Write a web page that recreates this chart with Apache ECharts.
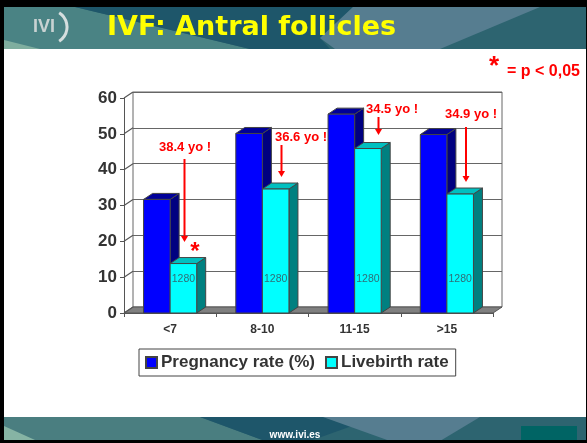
<!DOCTYPE html>
<html>
<head>
<meta charset="utf-8">
<title>IVF: Antral follicles</title>
<script src="https://cdn.jsdelivr.net/npm/echarts@6/dist/echarts.min.js"></script>
<style>
  html, body { margin: 0; padding: 0; background: #fff; }
  #main { width: 587px; height: 443px; }
</style>
</head>
<body>
<div id="main"></div>
<script>
var categories = ["<7", "8-10", "11-15", ">15"];
var pregnancyRate = [31.7, 50.1, 55.5, 49.8];
var livebirthRate = [13.8, 34.6, 45.9, 33.2];
var cycleCounts = ["1280", "1280", "1280", "1280"];
var yTicks = [0, 10, 20, 30, 40, 50, 60];
var ageNotes = ["38.4 yo !", "36.6 yo !", "34.5 yo !", "34.9 yo !"];

var chart = echarts.init(document.getElementById("main"));

// 3D look: depth of the bars and of the back wall
var DX = 9, DY = 6;
var FONT = '"Liberation Sans", Arial, sans-serif';

function barShape(side, front, faceSide, faceTop, labels) {
  return function (params, api) {
    var base = api.coord([api.value(0), 0]);
    var top = api.coord([api.value(0), api.value(1)]);
    var w = api.size([1, 0])[0] * 0.288;
    var x0 = base[0] + (side < 0 ? -w : 0);
    var x1 = x0 + w;
    var children = [
      { type: "polygon", shape: { points: [[x1, top[1]], [x1 + DX, top[1] - DY], [x1 + DX, base[1] - DY], [x1, base[1]]] },
        style: { fill: faceSide, stroke: "#444", lineWidth: 1 } },
      { type: "polygon", shape: { points: [[x0, top[1]], [x0 + DX, top[1] - DY], [x1 + DX, top[1] - DY], [x1, top[1]]] },
        style: { fill: faceTop, stroke: "#444", lineWidth: 1 } },
      { type: "rect", shape: { x: x0, y: top[1], width: w, height: base[1] - top[1] },
        style: { fill: front, stroke: "#444", lineWidth: 1 } }
    ];
    if (labels) {
      children.push({ type: "text", style: { text: labels[params.dataIndex], x: x0 + w / 2, y: base[1] - 34,
        fill: "#2f6f78", font: "10.5px " + FONT, textAlign: "center", textVerticalAlign: "middle" } });
    }
    return { type: "group", children: children };
  };
}

// floor and the little diagonals between the y axis and the back wall
function renderWall(params, api) {
  var p = api.coord([0, api.value(0)]);
  var x = p[0] - api.size([1, 0])[0] / 2;
  var children = [{ type: "line", shape: { x1: x, y1: p[1], x2: x + DX, y2: p[1] - DY }, style: { stroke: "#555", lineWidth: 1.2 } }];
  if (api.value(0) === 0) {
    var right = x + api.size([1, 0])[0] * categories.length;
    children.unshift({ type: "polygon", shape: { points: [[x, p[1]], [x + DX, p[1] - DY], [right + DX, p[1] - DY], [right, p[1]]] },
      style: { fill: "#808080", stroke: "#555", lineWidth: 1 } });
  }
  return { type: "group", children: children };
}

function redText(text, x, y, size, align) {
  return { type: "text", z: 100, silent: true, style: { text: text, x: x, y: y, fill: "#ff0000",
    font: "bold " + size + "px " + FONT, textAlign: align || "center", textVerticalAlign: "middle" } };
}
function arrow(x, y1, y2) {
  return { type: "group", z: 100, silent: true, children: [
    { type: "line", z: 100, shape: { x1: x, y1: y1, x2: x, y2: y2 - 4 }, style: { stroke: "#ff0000", lineWidth: 2 } },
    { type: "polygon", z: 100, shape: { points: [[x - 3.5, y2 - 6], [x + 3.5, y2 - 6], [x, y2]] }, style: { fill: "#ff0000" } }
  ] };
}
function patch(points, fill) {
  return { type: "polygon", z: 1, silent: true, shape: { points: points }, style: { fill: fill } };
}

var graphicItems = [
  // header band
  { type: "rect", z: 1, silent: true, shape: { x: 4, y: 7, width: 582, height: 42 }, style: { fill: "#2d6470" } },
  patch([[4, 7], [75, 7], [250, 49], [4, 49]], "#4a8384"),
  patch([[4, 40], [40, 49], [4, 49]], "#7fae9f"),
  patch([[75, 7], [353, 7], [320, 38], [330, 49], [250, 49]], "#1e566a"),
  patch([[353, 7], [540, 7], [440, 49], [335, 49], [320, 38]], "#567d90"),
  // footer band
  { type: "rect", z: 1, silent: true, shape: { x: 4, y: 417, width: 582, height: 24 }, style: { fill: "#2d6470" } },
  patch([[4, 417], [200, 417], [265, 441], [4, 441]], "#4a7e80"),
  patch([[4, 426], [35, 440], [4, 440]], "#86b4a4"),
  patch([[200, 417], [323, 417], [352, 426], [310, 441], [265, 441]], "#1e566a"),
  patch([[323, 417], [480, 417], [440, 441], [390, 441]], "#567d90"),
  { type: "rect", z: 2, silent: true, shape: { x: 521, y: 426, width: 56, height: 14 }, style: { fill: "#006464" } },
  // slide frame
  { type: "rect", z: 3, silent: true, shape: { x: 0, y: 0, width: 587, height: 7 }, style: { fill: "#000" } },
  { type: "rect", z: 3, silent: true, shape: { x: 0, y: 0, width: 4, height: 443 }, style: { fill: "#000" } },
  { type: "rect", z: 3, silent: true, shape: { x: 586, y: 0, width: 1, height: 443 }, style: { fill: "#000" } },
  { type: "rect", z: 3, silent: true, shape: { x: 0, y: 440, width: 587, height: 3 }, style: { fill: "#000" } },
  // header
  { type: "text", z: 4, silent: true, style: { text: "IVI", x: 33, y: 27, fill: "#c9d2d2", font: "bold 18px " + FONT, textVerticalAlign: "middle" } },
  { type: "arc", z: 4, silent: true, shape: { cx: 50, cy: 27, r: 17, startAngle: -1.0, endAngle: 1.0 }, style: { stroke: "#d5dede", lineWidth: 3, fill: "none" } },
  { type: "text", z: 4, silent: true, style: { text: "IVF: Antral follicles", x: 107, y: 28, fill: "#ffff00",
    font: 'bold 27px "DejaVu Sans", sans-serif', textVerticalAlign: "middle" } },
  { type: "text", z: 4, silent: true, style: { text: "www.ivi.es", x: 295, y: 435, fill: "#ffffff", font: "bold 10px " + FONT, textAlign: "center", textVerticalAlign: "middle" } },
  // significance note
  redText("*", 494, 67, 26),
  redText("= p < 0,05", 507, 72, 16, "left"),
  // age notes and arrows
  redText(ageNotes[0], 185, 147, 13), arrow(184.5, 159, 242),
  redText(ageNotes[1], 301, 137, 13), arrow(281.5, 145, 177),
  redText(ageNotes[2], 392, 109, 13), arrow(378.5, 117, 135),
  redText(ageNotes[3], 471, 114, 13), arrow(466, 127, 182),
  redText("*", 195, 252, 24)
];

var option = {
  animation: false,
  backgroundColor: "#ffffff",
  textStyle: { fontFamily: FONT },
  grid: [
    { left: 124, top: 98, width: 369, height: 215 },
    { left: 133, top: 92, width: 369, height: 215, show: true, backgroundColor: "#fff", borderColor: "#666", borderWidth: 1 }
  ],
  xAxis: [
    { type: "category", gridIndex: 0, data: categories,
      axisLine: { lineStyle: { color: "#555" } },
      axisTick: { show: true, length: 4, lineStyle: { color: "#555" } },
      axisLabel: { color: "#333", fontWeight: "bold", fontSize: 12, margin: 11, fontFamily: FONT },
      splitLine: { show: false } },
    { type: "category", gridIndex: 1, data: categories, show: false }
  ],
  yAxis: [
    { type: "value", gridIndex: 0, min: 0, max: 60, interval: 10,
      axisLine: { show: true, lineStyle: { color: "#555" } },
      axisTick: { show: true, length: 4, lineStyle: { color: "#555" } },
      axisLabel: { color: "#333", fontWeight: "bold", fontSize: 17, margin: 7, fontFamily: FONT },
      splitLine: { show: false } },
    { type: "value", gridIndex: 1, min: 0, max: 60, interval: 10,
      axisLine: { show: false }, axisTick: { show: false }, axisLabel: { show: false },
      splitLine: { show: true, lineStyle: { color: "#666", width: 1.2 } } }
  ],
  legend: {
    data: ["Pregnancy rate (%)", "Livebirth rate"],
    left: 139, top: 349,
    orient: "horizontal",
    icon: "rect", itemWidth: 11, itemHeight: 11, itemGap: 10,
    padding: [5, 7, 5, 6],
    selectedMode: false,
    backgroundColor: "#fff",
    borderColor: "#444", borderWidth: 1,
    textStyle: { color: "#333", fontWeight: "bold", fontSize: 17, fontFamily: FONT, padding: [0, 0, 0, -1] }
  },
  series: [
    { type: "custom", name: "walls", xAxisIndex: 0, yAxisIndex: 0, clip: false, silent: true, z: 2,
      encode: { y: 0 }, data: yTicks.map(function (t) { return [t]; }), renderItem: renderWall },
    { type: "custom", name: "Pregnancy rate (%)", xAxisIndex: 0, yAxisIndex: 0, clip: false, z: 3,
      itemStyle: { color: "#0000ff", borderColor: "#444", borderWidth: 1 },
      encode: { x: 0, y: 1 },
      data: pregnancyRate.map(function (v, i) { return [i, v]; }),
      renderItem: barShape(-1, "#0000ff", "#000080", "#000099") },
    { type: "custom", name: "Livebirth rate", xAxisIndex: 0, yAxisIndex: 0, clip: false, z: 4,
      itemStyle: { color: "#00ffff", borderColor: "#444", borderWidth: 1 },
      encode: { x: 0, y: 1 },
      data: livebirthRate.map(function (v, i) { return [i, v]; }),
      renderItem: barShape(1, "#00ffff", "#008080", "#00c0c0", cycleCounts) }
  ],
  graphic: { elements: graphicItems }
};

chart.setOption(option);
window.onresize = function () { chart.resize(); };
</script>
</body>
</html>
